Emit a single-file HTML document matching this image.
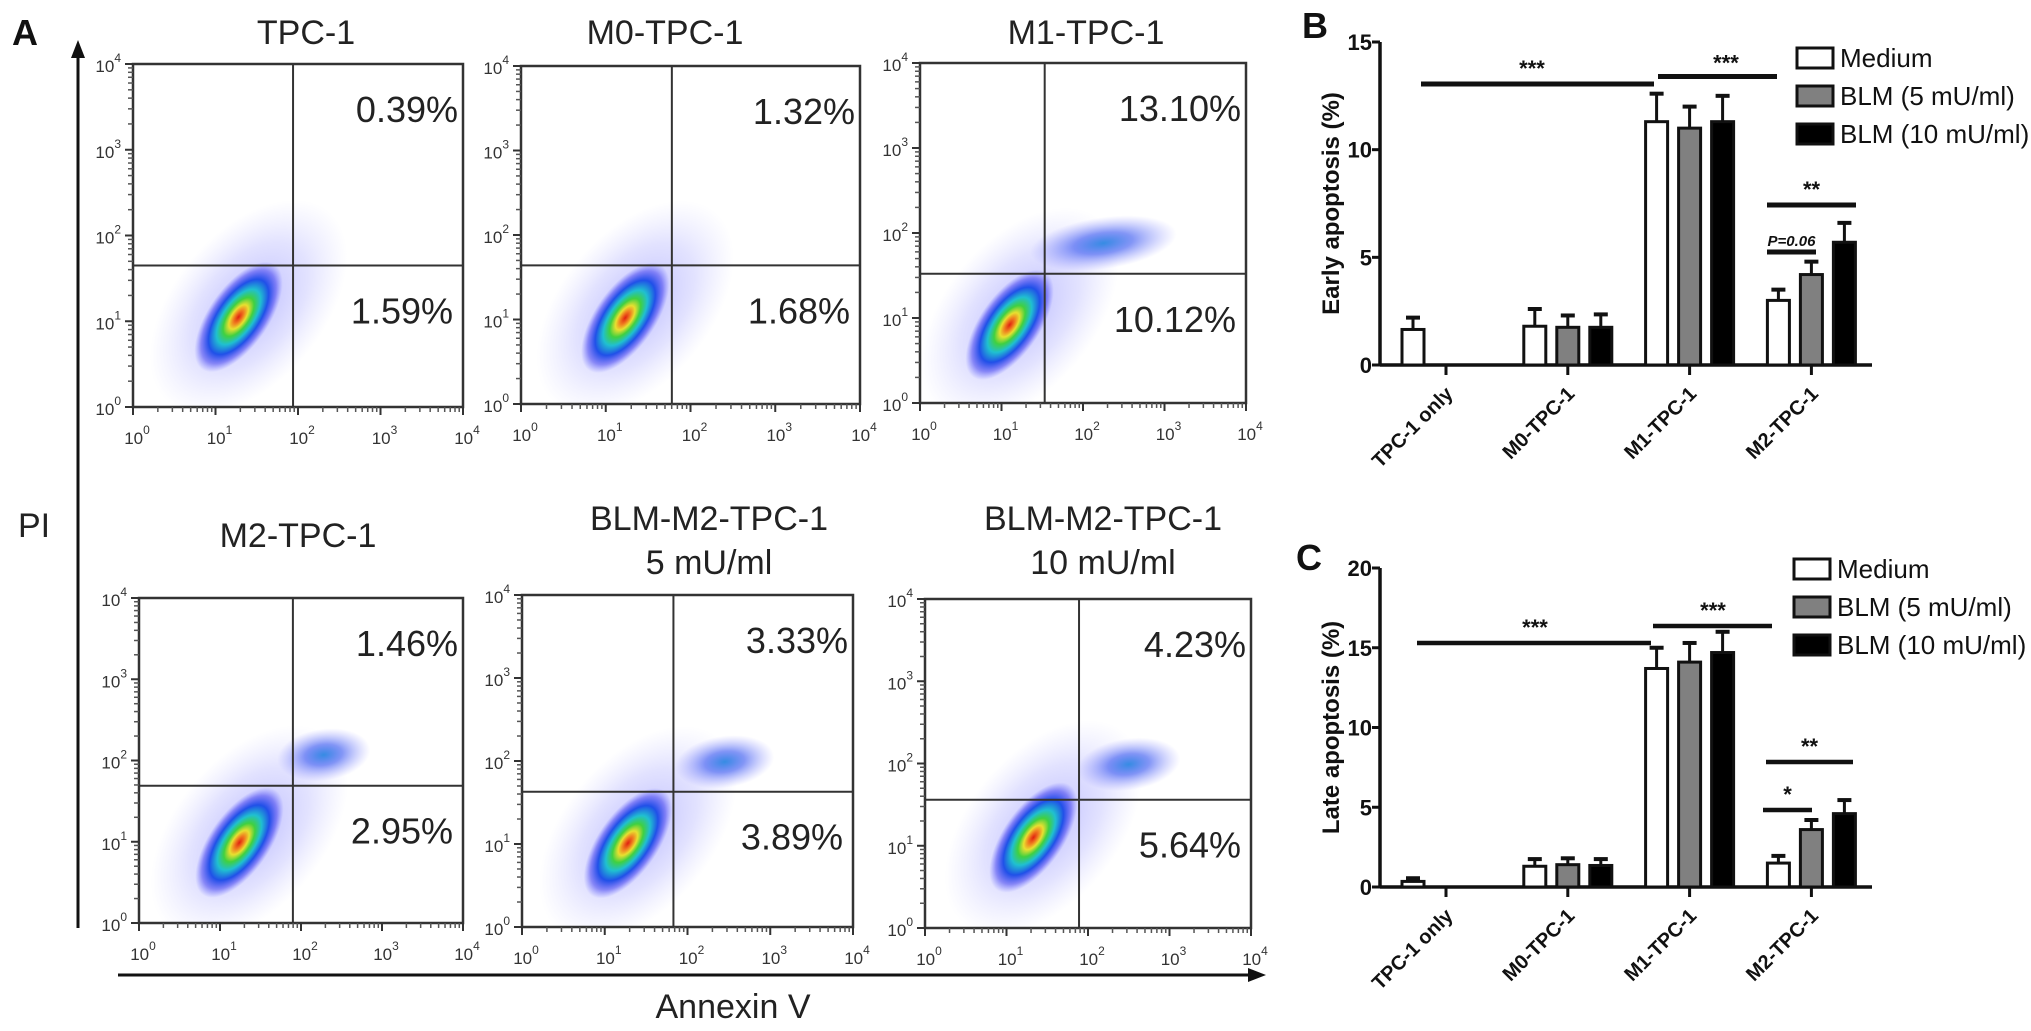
<!DOCTYPE html>
<html><head><meta charset="utf-8">
<style>
html,body{margin:0;padding:0;background:#fff;}
svg{display:block;}
.ttl{font-family:"Liberation Sans",sans-serif;font-size:34px;fill:#222;}
.pct{font-family:"Liberation Sans",sans-serif;font-size:36px;fill:#222;}
.tk{font-family:"Liberation Sans",sans-serif;font-size:17px;fill:#333;}
.bt{font-family:"Liberation Sans",sans-serif;font-weight:bold;fill:#111;}
.lg{font-family:"Liberation Sans",sans-serif;font-size:26px;fill:#111;}
</style></head>
<body>
<svg id="fig" width="2031" height="1031" viewBox="0 0 2031 1031" xmlns="http://www.w3.org/2000/svg">
<defs>
<radialGradient id="core" cx="50%" cy="50%" r="50%">
<stop offset="0" stop-color="#e02010"/>
<stop offset="0.12" stop-color="#f08020"/>
<stop offset="0.22" stop-color="#e8e030"/>
<stop offset="0.35" stop-color="#40d040"/>
<stop offset="0.5" stop-color="#20c0d0"/>
<stop offset="0.68" stop-color="#2050e8"/>
<stop offset="0.85" stop-color="#4040f0" stop-opacity="0.55"/>
<stop offset="1" stop-color="#6060ff" stop-opacity="0"/>
</radialGradient>
<radialGradient id="halo" cx="50%" cy="50%" r="50%">
<stop offset="0" stop-color="#5050ff" stop-opacity="0.4"/>
<stop offset="0.6" stop-color="#7070ff" stop-opacity="0.2"/>
<stop offset="1" stop-color="#9090ff" stop-opacity="0"/>
</radialGradient>
<radialGradient id="clus" cx="50%" cy="50%" r="50%">
<stop offset="0" stop-color="#2080e0" stop-opacity="0.9"/>
<stop offset="0.4" stop-color="#3050f0" stop-opacity="0.6"/>
<stop offset="1" stop-color="#8080ff" stop-opacity="0"/>
</radialGradient>
</defs>
<text x="12" y="45" class="bt" font-size="36">A</text>
<text x="1302" y="38" class="bt" font-size="36">B</text>
<text x="1296" y="570" class="bt" font-size="36">C</text>
<g id="flow"></g>
<g id="barB"></g>
<g id="barC"></g>
</svg>
<script>
// ===== Flow cytometry data =====
const flowTitles = [["TPC-1"],["M0-TPC-1"],["M1-TPC-1"],["M2-TPC-1"],["BLM-M2-TPC-1","5 mU/ml"],["BLM-M2-TPC-1","10 mU/ml"]];
const flowUpperRight = ["0.39%","1.32%","13.10%","1.46%","3.33%","4.23%"];
const flowLowerRight = ["1.59%","1.68%","10.12%","2.95%","3.89%","5.64%"];
const gateX = [1.94, 1.78, 1.53, 1.90, 1.83, 1.89];   // log10 annexin gate
const gateY = [1.65, 1.64, 1.52, 1.69, 1.63, 1.56];   // log10 PI gate
const coreX = [1.28, 1.23, 1.10, 1.24, 1.28, 1.33];
const coreY = [1.05, 1.02, 0.92, 0.99, 1.01, 1.10];
const clusterX = [null, null, 2.25, 2.28, 2.45, 2.5];
const clusterY = [null, null, 1.88, 2.07, 1.99, 1.99];
const clusterW = [0, 0, 1.0, 0.45, 0.5, 0.55];
const decadeLabels = ["0","1","2","3","4"];

// plot boxes [left, top, right, bottom]
const boxes = [[133,64,463,407],[521,66,860,404],[920,63,1246,403],[139,598,463,923],[522,595,853,927],[925,599,1251,928]];
const titleCx = [306,665,1086,298,709,1103];
const titleY = [[44],[44],[44],[547],[530,574],[530,574]];

const NS="http://www.w3.org/2000/svg";
function mk(tag, attrs, parent){const e=document.createElementNS(NS,tag);for(const k in attrs)e.setAttribute(k,attrs[k]);parent.appendChild(e);return e;}

const flow=document.getElementById('flow');
let a1=mk('line',{x1:78,y1:55,x2:78,y2:928,stroke:'#111','stroke-width':3},flow);


mk('polygon',{points:'78,40 71,58 85,58',fill:'#111'},flow);
let a2=mk('line',{x1:118,y1:975,x2:1250,y2:975,stroke:'#111','stroke-width':3},flow);


mk('polygon',{points:'1266,975 1248,968 1248,982',fill:'#111'},flow);
let pl=mk('text',{x:34,y:537,class:'ttl','text-anchor':'middle','font-size':36},flow);pl.textContent='PI';


let al=mk('text',{x:733,y:1018,class:'ttl','text-anchor':'middle','font-size':36},flow);al.textContent='Annexin V';



boxes.forEach((b,i)=>{
  const [L,T,R,B]=b;
  const g=mk('g',{},flow);
  
  
  const sx=v=>L+(R-L)*v/4, sy=v=>B-(B-T)*v/4;
  const cp=mk('clipPath',{id:'cp'+i},g);mk('rect',{x:L,y:T,width:R-L,height:B-T},cp);
  const dots=mk('g',{'clip-path':'url(#cp'+i+')'},g);
  const cx=sx(coreX[i]), cy=sy(coreY[i]);
  mk('ellipse',{cx:cx+10,cy:cy-10,rx:125,ry:75,fill:'url(#halo)',transform:`rotate(-50 ${cx+10} ${cy-10})`},dots);
  if(clusterX[i]!==null){
    const kx=sx(clusterX[i]), ky=sy(clusterY[i]);
    const e=mk('ellipse',{cx:kx,cy:ky,rx:(R-L)*clusterW[i]/4*0.6+25,ry:26,fill:'url(#clus)',transform:`rotate(-8 ${kx} ${ky})`},dots);
    
    
  }
  const c=mk('ellipse',{cx:cx,cy:cy,rx:64,ry:30,fill:'url(#core)',transform:`rotate(-55 ${cx} ${cy})`},dots);
  
  
  mk('rect',{x:L,y:T,width:R-L,height:B-T,fill:'none',stroke:'#333','stroke-width':2.5},g);
  const gx=sx(gateX[i]), gy=sy(gateY[i]);
  mk('line',{x1:gx,y1:T,x2:gx,y2:B,stroke:'#333','stroke-width':2},g);
  mk('line',{x1:L,y1:gy,x2:R,y2:gy,stroke:'#333','stroke-width':2},g);
  for(let d=0;d<=4;d++){
    mk('line',{x1:sx(d),y1:B,x2:sx(d),y2:B+8,stroke:'#333','stroke-width':2},g);
    mk('line',{x1:L,y1:sy(d),x2:L-8,y2:sy(d),stroke:'#333','stroke-width':2},g);
    if(d<4){for(let m=2;m<10;m++){const f=d+Math.log10(m);
      mk('line',{x1:sx(f),y1:B,x2:sx(f),y2:B+5,stroke:'#555','stroke-width':1.5},g);
      mk('line',{x1:L,y1:sy(f),x2:L-5,y2:sy(f),stroke:'#555','stroke-width':1.5},g);}}
    const tx=mk('text',{x:sx(d)+4,y:B+37,class:'tk','text-anchor':'middle'},g);
    tx.innerHTML='10<tspan dy="-10" font-size="12">'+decadeLabels[d]+'</tspan>';
    const ty=mk('text',{x:L-12,y:sy(d)+8,class:'tk','text-anchor':'end'},g);
    ty.innerHTML='10<tspan dy="-10" font-size="12">'+decadeLabels[d]+'</tspan>';
  }
  const u=mk('text',{x:R-5,y:T+58,class:'pct','text-anchor':'end'},g);u.textContent=flowUpperRight[i];
  
  
  const lo=mk('text',{x:R-10,y:gy+58,class:'pct','text-anchor':'end'},g);lo.textContent=flowLowerRight[i];
  
  
  flowTitles[i].forEach((t,k)=>{const te=mk('text',{x:titleCx[i],y:titleY[i][k],class:'ttl','text-anchor':'middle'},g);te.textContent=t;
    
    });
});

// ===== Bar chart data =====
const groups = ["TPC-1 only","M0-TPC-1","M1-TPC-1","M2-TPC-1"];
const seriesNames = ["Medium","BLM (5 mU/ml)","BLM (10 mU/ml)"];
const earlyMedium = [1.65, 1.8, 11.3, 3.0];
const earlyMediumErr = [0.55, 0.8, 1.3, 0.5];
const earlyBLM5 = [null, 1.75, 11.0, 4.2];
const earlyBLM5Err = [null, 0.55, 1.0, 0.6];
const earlyBLM10 = [null, 1.75, 11.3, 5.7];
const earlyBLM10Err = [null, 0.6, 1.2, 0.9];
const lateMedium = [0.35, 1.3, 13.7, 1.5];
const lateMediumErr = [0.2, 0.45, 1.3, 0.45];
const lateBLM5 = [null, 1.4, 14.1, 3.6];
const lateBLM5Err = [null, 0.4, 1.2, 0.6];
const lateBLM10 = [null, 1.35, 14.7, 4.6];
const lateBLM10Err = [null, 0.4, 1.3, 0.85];
const earlyTicks = [0,5,10,15];
const lateTicks = [0,5,10,15,20];

const fills=['#fff','#808080','#000'];
function barChart(id, cfg){
  const g=document.getElementById(id);
  const {y0,ymax,ytop,ticks,vals,errs,title,legY,legX,sig}=cfg;
  const ax=1380, xr=1872, tick0=1446, step=121.8;
  const sy=v=>y0-(y0-ytop)*v/ymax;
  const gx=i=>tick0+i*step;
  mk('line',{x1:ax,y1:sy(ymax),x2:ax,y2:y0,stroke:'#111','stroke-width':3.5},g);
  mk('line',{x1:ax,y1:y0,x2:xr,y2:y0,stroke:'#111','stroke-width':3.5},g);
  ticks.forEach(t=>{mk('line',{x1:ax-8,y1:sy(t),x2:ax,y2:sy(t),stroke:'#111','stroke-width':3},g);
    const l=mk('text',{x:ax-8,y:sy(t)+8,class:'bt','font-size':22,'text-anchor':'end'},g);l.textContent=t;
    
    });
  const yt=mk('text',{x:0,y:0,class:'bt','font-size':24,'text-anchor':'middle',transform:`translate(1339 ${(sy(ymax)+y0)/2}) rotate(-90)`},g);yt.textContent=title;
  
  
  groups.forEach((name,i)=>{
    mk('line',{x1:gx(i),y1:y0,x2:gx(i),y2:y0+10,stroke:'#111','stroke-width':3},g);
    const l=mk('text',{x:0,y:0,class:'bt','font-size':20,'text-anchor':'end',transform:`translate(${gx(i)+8} ${y0+30}) rotate(-45)`},g);l.textContent=name;
    
    
    vals.forEach((s,k)=>{
      const v=s[i]; if(v===null) return;
      const bx=(i===0?gx(i)-33:gx(i)+(k-1)*33);
      const r=mk('rect',{x:bx-11,y:sy(v),width:22,height:y0-sy(v),fill:fills[k],stroke:'#111','stroke-width':3},g);
      
      
      const e=v+errs[k][i];
      mk('line',{x1:bx,y1:sy(v),x2:bx,y2:sy(e),stroke:'#111','stroke-width':3},g);
      mk('line',{x1:bx-7,y1:sy(e),x2:bx+7,y2:sy(e),stroke:'#111','stroke-width':4},g);
    });
  });
  seriesNames.forEach((n,k)=>{
    const y=legY+k*38;
    const r=mk('rect',{x:legX,y:y-10,width:36,height:20,fill:fills[k],stroke:'#111','stroke-width':3},g);
    
    
    const t=mk('text',{x:legX+43,y:y+9,class:'lg'},g);t.textContent=n;
    
    
  });
  sig.forEach(s=>{
    const y=sy(s.v);
    const l=mk('line',{x1:s.x1,y1:y,x2:s.x2,y2:y,stroke:'#111','stroke-width':s.w||5},g);
    
    
    const t=mk('text',{x:s.tx||(s.x1+s.x2)/2,y:y-(s.dy||8),class:s.cls||'bt','font-size':s.fs||22,'text-anchor':'middle','font-style':s.it?'italic':'normal',fill:s.col||'#111'},g);
    t.textContent=s.t;
    
    
  });
}
barChart('barB',{y0:365,ymax:15,ytop:42,ticks:earlyTicks,vals:[earlyMedium,earlyBLM5,earlyBLM10],errs:[earlyMediumErr,earlyBLM5Err,earlyBLM10Err],
  title:'Early apoptosis (%)',legX:1797,legY:58,
  sig:[{x1:1421,x2:1654,v:13.05,t:'***',tx:1532,dy:8},{x1:1658,x2:1777,v:13.4,t:'***',tx:1726,dy:6},
       {x1:1767,x2:1856,v:7.43,t:'**'},{x1:1767,x2:1816,v:5.25,t:'P=0.06',fs:15,it:true,col:'#666',dy:6}]});
barChart('barC',{y0:887,ymax:20,ytop:568,ticks:lateTicks,vals:[lateMedium,lateBLM5,lateBLM10],errs:[lateMediumErr,lateBLM5Err,lateBLM10Err],
  title:'Late apoptosis (%)',legX:1794,legY:569,
  sig:[{x1:1417,x2:1651,v:15.3,t:'***',tx:1535,w:4.5},{x1:1653,x2:1772,v:16.36,t:'***',tx:1713,w:4.5},
       {x1:1766,x2:1853,v:7.84,t:'**',w:4.5},{x1:1763,x2:1812,v:4.83,t:'*',w:4.5}]});
</script>
</body></html>
